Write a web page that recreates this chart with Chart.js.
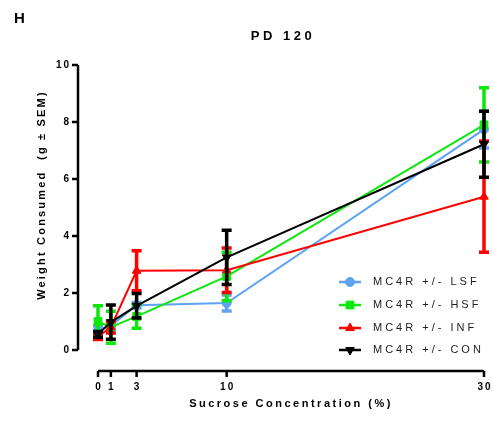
<!DOCTYPE html>
<html>
<head>
<meta charset="utf-8">
<script src="https://cdn.jsdelivr.net/npm/chart.js@4.4.1/dist/chart.umd.min.js"></script>
<style>
  html, body { margin: 0; padding: 0; background: #fff; }
  #wrap { width: 493px; height: 422px; }
</style>
</head>
<body>
<div id="wrap"><canvas id="c"></canvas></div>
<script>
// valores (PD 120)
const sucrose = [0, 1, 3, 10, 30];
const xTicks = [0, 1, 3, 10, 30];
const yTicks = [0, 2, 4, 6, 8, 10];
const seriesNames = ['MC4R +/- LSF', 'MC4R +/- HSF', 'MC4R +/- INF', 'MC4R +/- CON'];

const lsfMean = [0.70, 0.85, 1.57, 1.65, 7.74];
const lsfSem  = [0.15, 0.12, 0.10, 0.28, 0.65];
const hsfMean = [1.00, 0.80, 1.18, 2.58, 7.90];
const hsfSem  = [0.55, 0.56, 0.42, 0.85, 1.30];
const infMean = [0.47, 0.80, 2.78, 2.80, 5.38];
const infSem  = [0.10, 0.20, 0.70, 0.78, 1.95];
const conMean = [0.55, 0.98, 1.55, 3.25, 7.22];
const conSem  = [0.10, 0.60, 0.43, 0.95, 1.16];

const FONT = "'Liberation Sans', Arial, sans-serif";

function pts(mean) {
  return sucrose.map((x, i) => ({ x, y: mean[i] }));
}

function ds(label, mean, sem, color, style, radius, rotation, order) {
  return {
    label, data: pts(mean), sem,
    borderColor: color, backgroundColor: color,
    pointBackgroundColor: color, pointBorderColor: color,
    pointStyle: style, pointRadius: radius, pointRotation: rotation,
    pointBorderWidth: 1, borderWidth: 2, tension: 0,
    clip: false, order,
  };
}

const datasets = [
  ds(seriesNames[0], lsfMean, lsfSem, '#5ea2f2', 'circle', 4.5, 0, 4),
  ds(seriesNames[1], hsfMean, hsfSem, '#0be80b', 'rect', 5.5, 0, 3),
  ds(seriesNames[2], infMean, infSem, '#ff0000', 'triangle', 5, 0, 2),
  ds(seriesNames[3], conMean, conSem, '#000000', 'triangle', 5, 180, 1),
];

// barras de error bajo cada serie
const errorBars = {
  id: 'errorBars',
  beforeDatasetDraw(chart, args) {
    const { ctx } = chart;
    const meta = args.meta;
    const d = chart.data.datasets[args.index];
    const xs = meta.xScale, ys = meta.yScale;
    ctx.save();
    ctx.strokeStyle = d.borderColor;
    ctx.lineWidth = 3.5;
    ctx.lineCap = 'butt';
    d.data.forEach((p, i) => {
      const px = xs.getPixelForValue(p.x);
      const top = ys.getPixelForValue(p.y + d.sem[i]);
      const bot = ys.getPixelForValue(p.y - d.sem[i]);
      ctx.beginPath();
      ctx.moveTo(px, top); ctx.lineTo(px, bot);
      ctx.moveTo(px - 5, top); ctx.lineTo(px + 5, top);
      ctx.moveTo(px - 5, bot); ctx.lineTo(px + 5, bot);
      ctx.stroke();
    });
    ctx.restore();
  },
};

// ejes desplazados estilo Prism, titulos y leyenda
const decor = {
  id: 'decor',
  afterDraw(chart) {
    const { ctx, chartArea } = chart;
    const xs = chart.scales.x, ys = chart.scales.y;
    ctx.save();
    ctx.letterSpacing = '0px';
    ctx.strokeStyle = '#000';
    ctx.fillStyle = '#000';
    ctx.lineWidth = 2.5;

    // eje y
    const axX = chartArea.left - 20;
    ctx.beginPath();
    ctx.moveTo(axX, ys.getPixelForValue(10));
    ctx.lineTo(axX, ys.getPixelForValue(0));
    yTicks.forEach(v => {
      const py = ys.getPixelForValue(v);
      ctx.moveTo(axX - 6, py); ctx.lineTo(axX, py);
    });
    ctx.stroke();

    // eje x
    const axY = chartArea.bottom + 21;
    ctx.beginPath();
    ctx.moveTo(xs.getPixelForValue(0), axY);
    ctx.lineTo(xs.getPixelForValue(30), axY);
    xTicks.forEach(v => {
      const px = xs.getPixelForValue(v);
      ctx.moveTo(px, axY); ctx.lineTo(px, axY + 6);
    });
    ctx.stroke();

    ctx.font = 'bold 10px ' + FONT;
    ctx.letterSpacing = '2px';
    ctx.textBaseline = 'middle';
    ctx.textAlign = 'right';
    yTicks.forEach(v => ctx.fillText(String(v), axX - 7, ys.getPixelForValue(v)));
    ctx.textAlign = 'center';
    xTicks.forEach(v => ctx.fillText(String(v), xs.getPixelForValue(v) + 1, axY + 16));

    // titulos
    ctx.font = 'bold 15px ' + FONT;
    ctx.letterSpacing = '0px';
    ctx.textAlign = 'left';
    ctx.fillText('H', 14, 19);

    ctx.font = 'bold 13px ' + FONT;
    ctx.letterSpacing = '3.5px';
    ctx.textAlign = 'center';
    ctx.fillText('PD 120', 283, 36);

    ctx.font = 'bold 11px ' + FONT;
    ctx.letterSpacing = '2.5px';
    ctx.fillText('Sucrose Concentration (%)', 291, 404);

    ctx.save();
    ctx.translate(42, 195);
    ctx.rotate(-Math.PI / 2);
    ctx.letterSpacing = '2.2px';
    ctx.fillText('Weight Consumed  (g \u00b1 SEM)', 0, 0);
    ctx.restore();

    // leyenda
    const rows = [282, 305, 328, 350];
    ctx.font = '11px ' + FONT;
    ctx.letterSpacing = '3px';
    ctx.textAlign = 'left';
    chart.data.datasets.forEach((d, i) => {
      const y = rows[i];
      ctx.strokeStyle = d.borderColor;
      ctx.lineWidth = 2.5;
      ctx.beginPath();
      ctx.moveTo(339, y); ctx.lineTo(361, y);
      ctx.stroke();
      ctx.fillStyle = d.backgroundColor;
      ctx.strokeStyle = d.borderColor;
      ctx.lineWidth = 1;
      Chart.helpers.drawPoint(ctx, {
        pointStyle: d.pointStyle, radius: d.pointRadius,
        rotation: d.pointRotation, borderWidth: 1,
      }, 350, y);
      ctx.fillStyle = '#222';
      ctx.fillText(d.label, 373, y);
    });
    ctx.restore();
  },
};

new Chart(document.getElementById('c'), {
  type: 'line',
  data: { datasets },
  options: {
    responsive: true,
    maintainAspectRatio: false,
    animation: false,
    layout: { padding: { left: 98, right: 9, top: 65, bottom: 72 } },
    plugins: { legend: { display: false }, tooltip: { enabled: false } },
    scales: {
      x: { type: 'linear', min: 0, max: 30, display: false },
      y: { type: 'linear', min: 0, max: 10, display: false },
    },
  },
  plugins: [errorBars, decor],
});
</script>
</body>
</html>
